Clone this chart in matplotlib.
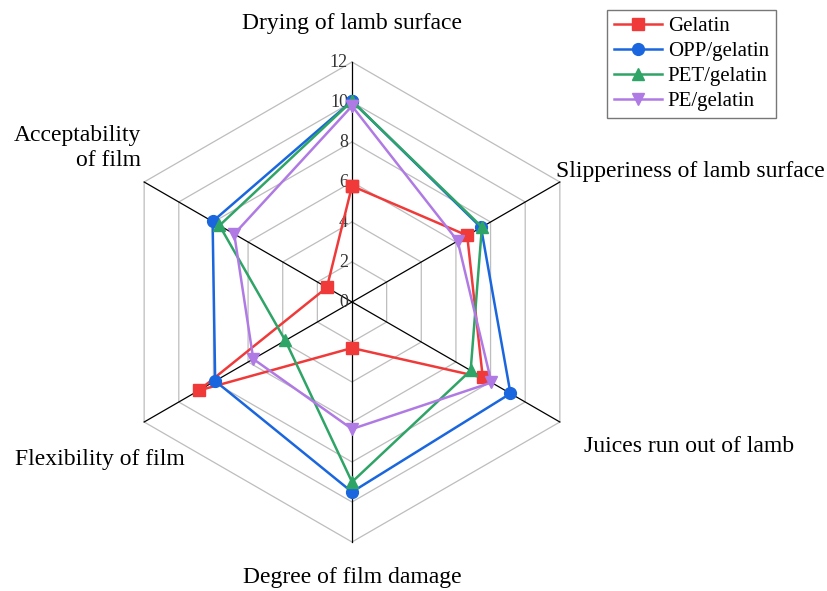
#!/usr/bin/env python

import matplotlib as mpl
mpl.use('agg')
import matplotlib.pyplot as plt
import numpy as np

plt.rcParams['font.family'] = ['Liberation Serif', 'DejaVu Serif']

# axes, clockwise from the top
CATEGORIES = [
    'Drying of lamb surface',
    'Slipperiness of lamb surface',
    'Juices run out of lamb',
    'Degree of film damage',
    'Flexibility of film',
    'Acceptability\nof film',
]
TICKS = [0, 2, 4, 6, 8, 10, 12]

GELATIN = [5.8, 6.65, 7.55, 2.3, 8.85, 1.45]
OPP = [10.05, 7.45, 9.15, 9.5, 7.9, 8.05]
PET = [10.05, 7.5, 6.85, 9.0, 3.85, 7.65]
PE = [9.8, 6.1, 8.05, 6.35, 5.7, 6.8]

SERIES = [
    ('Gelatin', GELATIN, '#F03A3A', 's'),
    ('OPP/gelatin', OPP, '#1A66DE', 'o'),
    ('PET/gelatin', PET, '#2EA466', '^'),
    ('PE/gelatin', PE, '#B07AE4', 'v'),
]

ANGLES = np.deg2rad(90 - 60 * np.arange(len(CATEGORIES)))


def _xy(vals):
    """Values along the spokes to cartesian points, closed"""
    vals = np.asarray(vals, dtype=float)
    xs = vals * np.cos(ANGLES)
    ys = vals * np.sin(ANGLES)
    return np.append(xs, xs[0]), np.append(ys, ys[0])


def main():
    fig = plt.figure(figsize=(8.27, 5.91), dpi=100)
    axes = fig.add_axes([0, 0, 1, 1])
    # 20 px per unit, centre at (352, 302) px
    axes.set_xlim(-17.6, 23.75)
    axes.set_ylim(-14.45, 15.1)
    axes.axis('off')

    rmax = TICKS[-1]
    # hexagon grid
    for tick in TICKS[1:]:
        xs, ys = _xy([tick] * len(CATEGORIES))
        axes.plot(xs, ys, color='#BDBDBD', lw=0.9, zorder=1)
    # spokes
    for ang in ANGLES:
        axes.plot([0, rmax * np.cos(ang)], [0, rmax * np.sin(ang)],
                  color='black', lw=0.9, zorder=2)

    # tick labels on the top spoke
    for tick in TICKS:
        axes.text(-0.2, tick - 0.05, str(tick), ha='right', va='center',
                  fontsize=13, color='#333333', zorder=3)

    # category labels
    kw = {'fontsize': 17}
    axes.text(0, 13.9, CATEGORIES[0], ha='center', va='center', **kw)
    axes.text(16.9, 6.5, CATEGORIES[1], ha='center', va='center', **kw)
    axes.text(16.85, -7.25, CATEGORIES[2], ha='center', va='center', **kw)
    axes.text(0, -13.8, CATEGORIES[3], ha='center', va='center', **kw)
    axes.text(-12.6, -7.9, CATEGORIES[4], ha='center', va='center', **kw)
    axes.text(-10.55, 7.7, CATEGORIES[5], ha='right', va='center',
              multialignment='right', linespacing=1.2, **kw)

    for name, vals, color, marker in SERIES:
        xs, ys = _xy(vals)
        axes.plot(xs, ys, color=color, lw=1.8, marker=marker,
                  markersize=8.5, label=name, zorder=4)

    leg = axes.legend(loc='upper left', bbox_to_anchor=(0.734, 0.983),
                      fontsize=15, frameon=True, fancybox=False,
                      handlelength=2.3, borderpad=0.32, labelspacing=0.26,
                      handletextpad=0.3, borderaxespad=0)
    leg.get_frame().set_edgecolor('#555555')
    leg.get_frame().set_linewidth(1.0)

    fig.savefig('out.png', dpi=100)


if __name__ == '__main__':
    main()
